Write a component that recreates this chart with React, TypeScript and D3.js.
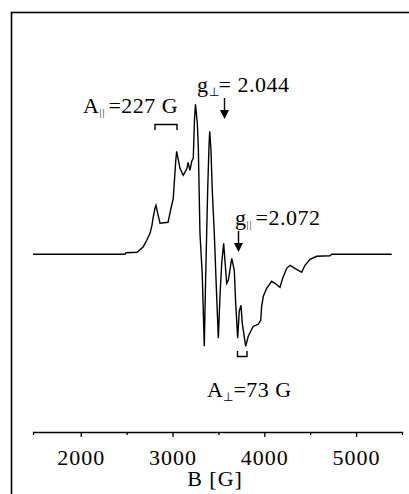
import React, { useEffect, useRef } from 'react';
import * as d3 from 'd3';

// EPR spectrum: field (G) and derivative intensity (arb. units)
const fieldG = [
  1480, 2482, 2493, 2613, 2682, 2719, 2755, 2776, 2791, 2809, 2820, 2836, 2864, 2951,
  2983, 3008, 3021, 3035, 3045, 3060, 3081, 3117, 3158, 3169, 3190, 3209, 3226, 3239,
  3250, 3270, 3281, 3299, 3324, 3346, 3361, 3372, 3383, 3397, 3405, 3419, 3433, 3455,
  3481, 3499, 3517, 3536, 3557, 3590, 3608, 3645, 3673, 3688, 3710, 3727, 3746, 3760,
  3797, 3825, 3880, 3934, 3961, 3971, 3989, 4026, 4080, 4116, 4171, 4200, 4244, 4280,
  4334, 4407, 4443, 4498, 4571, 4715, 4734, 5388,
];
const intensity = [
  0, 0, 1.6, 2, 7.6, 14, 21, 29, 38, 46, 49, 42, 31, 32,
  46, 56, 74, 93, 103, 96, 86, 79, 86, 92, 84, 93, 96, 134,
  150, 131, 107, 21, -21, -92, -23, 21, 64, 107, 123, 104, 64, 21,
  -42, -84, -42, -9, 11, -29, -26, -4, -16, -49, -84, -57, -51, -69,
  -92, -82, -72, -70, -66, -52, -42, -34, -27, -29, -33, -24, -14, -11,
  -14, -18, -11, -5, -2, -1.4, 0, 0,
];
const majorTicks = [2000, 3000, 4000, 5000];
const minorTicks = [2500, 3500, 4500];
const xLabel = 'B [G]';

const FONT = '"Liberation Serif", "Times New Roman", serif';
const FS = 22;

const App = () => {
  const axisRef = useRef<SVGGElement>(null);

  const x = d3.scaleLinear().domain([1480, 5500]).range([33, 402]);
  const y = d3.scaleLinear().domain([-100, 150]).range([354.3, 104.3]);

  const points = fieldG.map((b, i) => [b, intensity[i]] as [number, number]);
  const line = d3.line<[number, number]>()
    .x(d => x(d[0]))
    .y(d => y(d[1]));

  useEffect(() => {
    if (!axisRef.current) return;
    const g = d3.select(axisRef.current);
    g.selectAll('*').remove();

    // major ticks with labels
    g.append('g')
      .call(d3.axisBottom(x).tickValues(majorTicks).tickSize(5).tickSizeOuter(3).tickFormat(d3.format('d')))
      .call(s => s.select('.domain').attr('stroke-width', 1.3))
      .call(s => s.selectAll('.tick line').attr('stroke-width', 1.3))
      .call(s => s.selectAll('.tick text')
        .attr('font-family', FONT)
        .attr('font-size', FS)
        .attr('letter-spacing', 1)
        .attr('fill', '#000')
        .attr('dy', null)
        .attr('y', 33));

    // minor ticks
    g.append('g')
      .call(d3.axisBottom(x).tickValues(minorTicks).tickSize(3).tickFormat(() => ''))
      .call(s => s.select('.domain').remove())
      .call(s => s.selectAll('.tick line').attr('stroke-width', 1.3));
  }, []);

  const sub = { fontSize: 12, letterSpacing: 0 };
  const par = { fontSize: 10, letterSpacing: 1 };

  return (
    <svg width={409} height={494} style={{ position: 'absolute', left: 0, top: 0, background: '#fff' }}>
      <rect x={11.5} y={12.5} width={420} height={500} fill="none" stroke="#000" strokeWidth={1.6} />

      <path d={line(points) ?? ''} fill="none" stroke="#000" strokeWidth={1.4} strokeLinejoin="miter" />

      <g ref={axisRef} transform="translate(0,432)" />
      <text x={215} y={486} textAnchor="middle" fontFamily={FONT} fontSize={FS} letterSpacing={1}>{xLabel}</text>

      {/* annotations */}
      <g fontFamily={FONT} fontSize={FS} fill="#000" letterSpacing={0.5}>
        <text x={83} y={113}>A<tspan dy={3} style={par}>||</tspan><tspan dy={-3} dx={3}>=227 G</tspan></text>
        <text x={197} y={92}>g<tspan dy={4} style={sub}>⊥</tspan><tspan dy={-4}>= 2.044</tspan></text>
        <text x={235} y={225}>g<tspan dy={3} style={par}>||</tspan><tspan dy={-3} dx={3}>=2.072</tspan></text>
        <text x={207} y={397}>A<tspan dy={4} style={sub}>⊥</tspan><tspan dy={-4}>=73 G</tspan></text>
      </g>

      {/* brackets */}
      <path d="M155,130V124.5H177V130" fill="none" stroke="#000" strokeWidth={1.4} />
      <path d="M237.5,351V356.5H247V351" fill="none" stroke="#000" strokeWidth={1.4} />

      {/* arrows */}
      <line x1={224.5} y1={98} x2={224.5} y2={112} stroke="#000" strokeWidth={1.4} />
      <path d="M220,110L229,110L224.5,119Z" fill="#000" />
      <line x1={238.5} y1={231} x2={238.5} y2={245} stroke="#000" strokeWidth={1.4} />
      <path d="M234,243L243,243L238.5,252Z" fill="#000" />
    </svg>
  );
};

export default App;
